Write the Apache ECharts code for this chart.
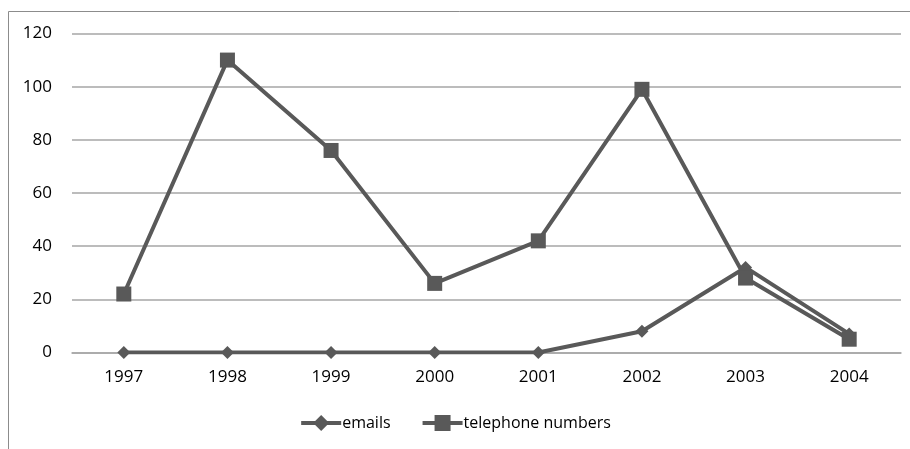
<!DOCTYPE html>
<html>
<head>
<meta charset="utf-8">
<script src="https://cdn.jsdelivr.net/npm/echarts@6/dist/echarts.min.js"></script>
<style>
html,body{margin:0;padding:0;background:#fff;}
#chart{width:910px;height:449px;}
</style>
</head>
<body>
<div id="chart"></div>
<script>
// Years on the category axis
const years = ['1997', '1998', '1999', '2000', '2001', '2002', '2003', '2004'];
// Counts per year
const emails = [0, 0, 0, 0, 0, 8, 32, 7];
const telephoneNumbers = [22, 110, 76, 26, 42, 99, 28, 5];
// Value axis range
const yMin = 0, yMax = 120, yStep = 20;

const ink = '#595959';
const font = '"Open Sans", sans-serif';

const chart = echarts.init(document.getElementById('chart'));
chart.setOption({
  animation: false,
  backgroundColor: '#fff',
  graphic: [{
    type: 'rect',
    shape: { x: 8.5, y: 11.5, width: 940, height: 480 },
    style: { fill: 'none', stroke: '#8c8c8c', lineWidth: 1 },
    silent: true
  }],
  grid: { left: 72, right: 9, top: 33.5, bottom: 96.5, containLabel: false },
  legend: {
    top: 410,
    left: 'center',
    itemWidth: 40,
    itemHeight: 20,
    itemGap: 30,
    lineStyle: { width: 4, color: ink },
    itemStyle: { color: ink },
    textStyle: { fontFamily: font, fontSize: 16, color: '#000', padding: [0, 0, 0, -4] },
    data: ['emails', 'telephone numbers']
  },
  xAxis: {
    type: 'category',
    data: years,
    boundaryGap: true,
    axisLine: { show: true, lineStyle: { color: '#a6a6a6', width: 1.5 } },
    axisTick: { show: false },
    axisLabel: { fontFamily: font, fontSize: 17, color: '#000', margin: 16 }
  },
  yAxis: {
    type: 'value',
    min: yMin, max: yMax, interval: yStep,
    axisLine: { show: false },
    axisTick: { show: false },
    axisLabel: { fontFamily: font, fontSize: 17, color: '#000', margin: 20 },
    splitLine: { lineStyle: { color: '#a6a6a6', width: 1.5 } }
  },
  series: [
    {
      name: 'emails',
      type: 'line',
      data: emails,
      symbol: 'diamond',
      symbolSize: 13,
      color: ink,
      lineStyle: { color: ink, width: 4 },
      itemStyle: { color: ink }
    },
    {
      name: 'telephone numbers',
      type: 'line',
      data: telephoneNumbers,
      symbol: 'rect',
      symbolSize: 15,
      color: ink,
      lineStyle: { color: ink, width: 4 },
      itemStyle: { color: ink }
    }
  ]
});
</script>
</body>
</html>
